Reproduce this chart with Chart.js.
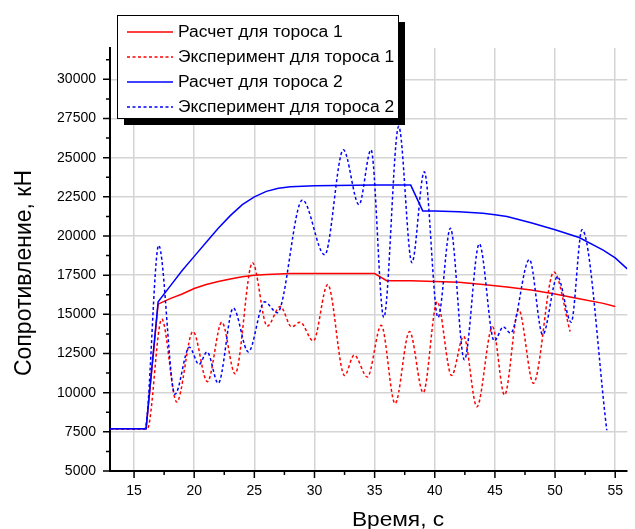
<!DOCTYPE html>
<html>
<head>
<meta charset="utf-8">
<script src="https://cdn.jsdelivr.net/npm/chart.js@4.4.1/dist/chart.umd.min.js"></script>
<style>
  body { margin: 0; background: #fff; }
  #wrap { width: 635px; height: 529px; }
</style>
</head>
<body>
<div id="wrap"><canvas id="chart" width="635" height="529"></canvas></div>
<script>
// Series labels and axis titles
const seriesNames = ['Расчет для тороса 1', 'Эксперимент для тороса 1', 'Расчет для тороса 2', 'Эксперимент для тороса 2'];
const xTitle = 'Время, с';
const yTitle = 'Сопротивление, кН';

// Tick values (major carry labels + grid, minor are short marks only)
const xMajor = [15, 20, 25, 30, 35, 40, 45, 50, 55];
const xMinor = [17.5, 22.5, 27.5, 32.5, 37.5, 42.5, 47.5, 52.5];
const yMajor = [5000, 7500, 10000, 12500, 15000, 17500, 20000, 22500, 25000, 27500, 30000];
const yMinor = [6250, 8750, 11250, 13750, 16250, 18750, 21250, 23750, 26250, 28750, 31250];

// Расчет, торос 1 (time, s / resistance, kN)
const calc1X = [13, 16, 17, 18, 19, 20, 21, 22, 23, 24, 25, 26, 27, 28, 30, 35, 36, 38, 40, 42, 44, 46, 48, 50, 52, 54, 55];
const calc1Y = [7700, 7700, 15650, 16000, 16300, 16650, 16900, 17100, 17250, 17400, 17500, 17550, 17580, 17600, 17600, 17600, 17150, 17150, 17100, 17050, 16900, 16750, 16550, 16300, 16000, 15700, 15500];

// Эксперимент, торос 1
const exp1X = [13, 16.1, 17.3, 18.55, 19.9, 21.1, 22.3, 23.4, 24.85, 26.07, 27.16, 28.1, 28.8, 29.9, 31.1, 32.5, 33.3, 34.4, 35.55, 36.7, 37.9, 39.04, 40.2, 41.4, 42.4, 43.5, 44.8, 45.8, 46.97, 48.2, 49.9, 51.25];
const exp1Y = [7700, 7700, 14700, 9400, 13900, 10700, 14500, 11200, 18300, 14250, 15500, 14200, 14500, 13300, 16900, 11100, 12400, 11000, 14300, 9300, 13900, 10000, 15800, 11100, 13600, 9100, 14200, 9850, 15300, 10600, 17700, 13900];

// Расчет, торос 2
const calc2X = [13, 16, 17, 18, 19, 20, 21, 22, 23, 24, 25, 26, 27, 28, 30, 35, 38, 39, 40, 42, 44, 45, 46, 48, 50, 52, 54, 55, 56];
const calc2Y = [7700, 7700, 15800, 16800, 17800, 18700, 19600, 20500, 21300, 22000, 22500, 22850, 23050, 23150, 23200, 23250, 23250, 21600, 21600, 21550, 21450, 21350, 21250, 20850, 20400, 19900, 19100, 18600, 17900];

// Эксперимент, торос 2
const exp2X = [13, 15.9, 17.05, 18.4, 19.6, 20.4, 21.07, 22.0, 23.25, 24.5, 25.85, 26.9, 29.0, 30.85, 32.4, 33.7, 34.7, 35.76, 37.0, 38.1, 39.13, 40.27, 41.3, 42.46, 43.7, 44.95, 45.7, 46.3, 47.87, 48.97, 50.2, 51.34, 52.24, 54.3];
const exp2Y = [7700, 7700, 19400, 9900, 12900, 11800, 12600, 10600, 15400, 12600, 15800, 15100, 22300, 18800, 25500, 22000, 25500, 14800, 27000, 18300, 24100, 14800, 20500, 12100, 19500, 13300, 14200, 13800, 18500, 13700, 17400, 14500, 20400, 7600];

const toPoints = (xs, ys) => xs.map((x, i) => ({ x: x, y: ys[i] }));
const setTicks = (major, minor) => s => {
    s.ticks = major.concat(minor).sort((a, b) => a - b).map(v => ({ value: v }));
};
const FONT = '"Liberation Sans", Arial, sans-serif';

// tick marks (major + minor), drawn from the scales
const tickMarks = {
    id: 'tickMarks',
    afterDraw(chart) {
        const { ctx, scales: { x, y } } = chart;
        ctx.save();
        ctx.strokeStyle = '#000';
        ctx.lineWidth = 1.5;
        ctx.beginPath();
        x.ticks.forEach(t => {
            const px = x.getPixelForValue(t.value);
            const len = xMajor.includes(t.value) ? 7 : 4;
            ctx.moveTo(px, x.top);
            ctx.lineTo(px, x.top + len);
        });
        y.ticks.forEach(t => {
            const py = y.getPixelForValue(t.value);
            const len = yMajor.includes(t.value) ? 7 : 4;
            ctx.moveTo(y.right, py);
            ctx.lineTo(y.right - len, py);
        });
        ctx.stroke();
        ctx.restore();
    }
};

// axis titles (the original text is slightly stretched horizontally)
const axisTitles = {
    id: 'axisTitles',
    afterDraw(chart) {
        const ctx = chart.ctx;
        ctx.save();
        ctx.fillStyle = '#000';
        ctx.textBaseline = 'alphabetic';
        ctx.textAlign = 'center';
        ctx.font = '21px ' + FONT;
        ctx.translate(398, 526);
        ctx.scale(1.08, 1);
        ctx.fillText(xTitle, 0, 0);
        ctx.restore();

        ctx.save();
        ctx.fillStyle = '#000';
        ctx.textBaseline = 'alphabetic';
        ctx.textAlign = 'center';
        ctx.font = '23px ' + FONT;
        ctx.translate(31, 273);
        ctx.rotate(-Math.PI / 2);
        ctx.fillText(yTitle, 0, 0);
        ctx.restore();
    }
};

// boxed legend with a drop shadow, inside the plot
const boxLegend = {
    id: 'boxLegend',
    afterDraw(chart) {
        const ctx = chart.ctx;
        const bx = 117, by = 15, bw = 281, bh = 103;
        ctx.save();
        ctx.fillStyle = '#000';
        ctx.fillRect(bx + 7, by + 7, bw, bh);
        ctx.fillStyle = '#fff';
        ctx.fillRect(bx, by, bw, bh);
        ctx.strokeStyle = '#000';
        ctx.lineWidth = 1;
        ctx.strokeRect(bx + 0.5, by + 0.5, bw, bh);
        ctx.font = '16px ' + FONT;
        ctx.textBaseline = 'middle';
        chart.data.datasets.forEach((ds, i) => {
            const cy = by + 17 + i * 25;
            ctx.strokeStyle = ds.borderColor;
            ctx.lineWidth = 1.5;
            ctx.setLineDash(ds.borderDash || []);
            ctx.beginPath();
            ctx.moveTo(bx + 10, cy);
            ctx.lineTo(bx + 56, cy);
            ctx.stroke();
            ctx.setLineDash([]);
            ctx.fillStyle = '#000';
            ctx.save();
            ctx.translate(bx + 61, cy + 1);
            ctx.scale(1.09, 1);
            ctx.fillText(ds.label, 0, 0);
            ctx.restore();
        });
        ctx.restore();
    }
};

Chart.defaults.font.family = FONT;
Chart.defaults.color = '#000';

new Chart(document.getElementById('chart').getContext('2d'), {
    type: 'line',
    data: {
        datasets: [{
            label: seriesNames[0],
            data: toPoints(calc1X, calc1Y),
            borderColor: '#ff0000',
            borderWidth: 1.5,
            tension: 0,
            order: 3
        }, {
            label: seriesNames[1],
            data: toPoints(exp1X, exp1Y),
            borderColor: '#ff0000',
            borderWidth: 1.5,
            borderDash: [3, 2.5],
            cubicInterpolationMode: 'monotone',
            order: 4
        }, {
            label: seriesNames[2],
            data: toPoints(calc2X, calc2Y),
            borderColor: '#0000ff',
            borderWidth: 1.5,
            tension: 0,
            order: 1
        }, {
            label: seriesNames[3],
            data: toPoints(exp2X, exp2Y),
            borderColor: '#0000ff',
            borderWidth: 1.5,
            borderDash: [3, 2.5],
            cubicInterpolationMode: 'monotone',
            order: 2
        }]
    },
    options: {
        responsive: false,
        animation: false,
        layout: { padding: { top: 48, right: 0, left: 0, bottom: 0 } },
        elements: { point: { radius: 0, hoverRadius: 0 } },
        plugins: { legend: { display: false }, tooltip: { enabled: false } },
        scales: {
            x: {
                type: 'linear',
                min: 13,
                max: 56,
                afterFit: s => { s.height = 58; },
                afterBuildTicks: setTicks(xMajor, xMinor),
                ticks: {
                    autoSkip: false,
                    maxRotation: 0,
                    padding: 12,
                    font: { size: 14 },
                    callback: v => (xMajor.includes(v) ? v : '')
                },
                grid: {
                    drawTicks: false,
                    lineWidth: 1.5,
                    color: c => (c.tick && xMajor.includes(c.tick.value) ? '#d4d4d4' : 'rgba(0,0,0,0)')
                },
                border: { color: '#000', width: 2 }
            },
            y: {
                min: 5000,
                max: 32000,
                afterFit: s => { s.width = 110; },
                afterBuildTicks: setTicks(yMajor, yMinor),
                ticks: {
                    autoSkip: false,
                    padding: 14,
                    font: { size: 14 },
                    callback: v => (yMajor.includes(v) ? v : '')
                },
                grid: {
                    drawTicks: false,
                    lineWidth: 1.5,
                    color: c => (c.tick && yMajor.includes(c.tick.value) ? '#d4d4d4' : 'rgba(0,0,0,0)')
                },
                border: { color: '#000', width: 2 }
            }
        }
    },
    plugins: [tickMarks, axisTitles, boxLegend]
});
</script>
</body>
</html>
